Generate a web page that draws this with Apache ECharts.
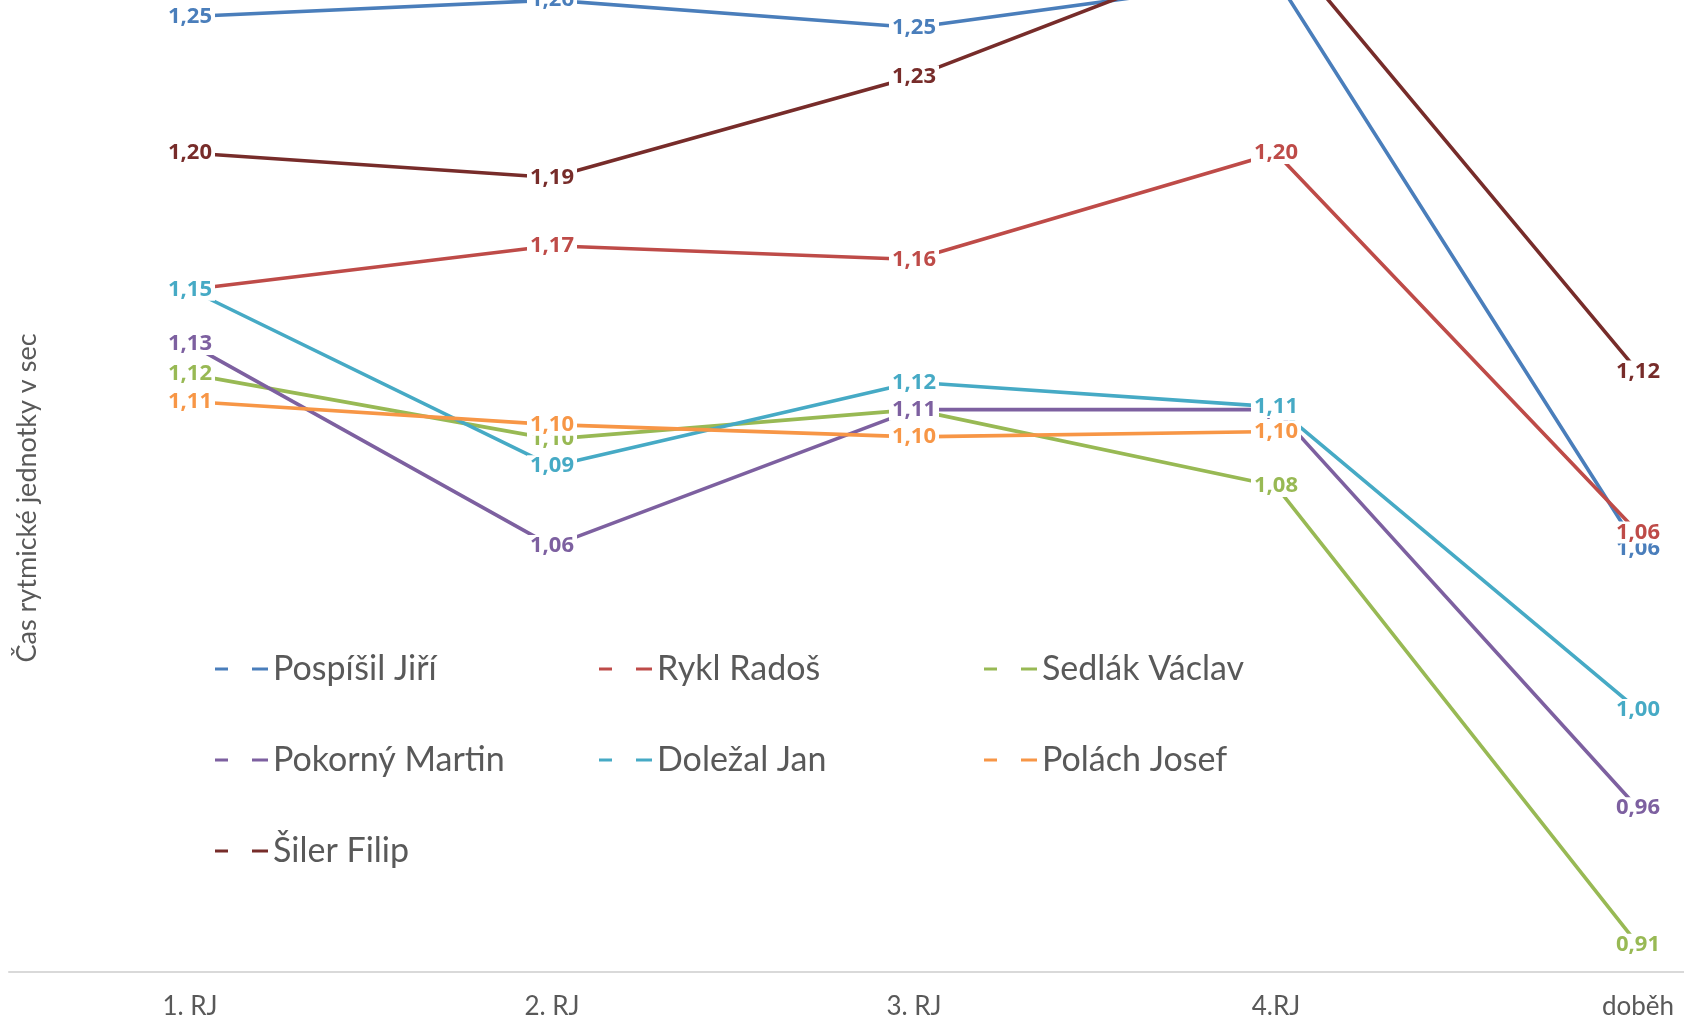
<!DOCTYPE html>
<html>
<head>
<meta charset="utf-8">
<script src="https://cdn.jsdelivr.net/npm/echarts@6/dist/echarts.min.js"></script>
<style>
  html, body { margin: 0; padding: 0; background: #fff; }
  #chart { width: 1684px; height: 1026px; }
</style>
</head>
<body>
<div id="chart"></div>
<script>
// Data (labels show values rounded to 2 decimals)
const categories = ["1. RJ", "2. RJ", "3. RJ", "4.RJ", "doběh"];
const names = ["Pospíšil Jiří", "Rykl Radoš", "Sedlák Václav", "Pokorný Martin", "Doležal Jan", "Polách Josef", "Šiler Filip"];
const pospisil = [1.25, 1.256, 1.246, 1.264, 1.0552];
const rykl = [1.15, 1.166, 1.161, 1.2, 1.061];
const sedlak = [1.119, 1.0952, 1.106, 1.078, 0.91];
const pokorny = [1.13, 1.056, 1.106, 1.106, 0.96];
const dolezal = [1.15, 1.0853, 1.116, 1.107, 0.996];
const polach = [1.109, 1.1005, 1.096, 1.098, null];
const siler = [1.2, 1.191, 1.228, 1.279, 1.12];
const colors = ["#4A7EBB", "#BE4B48", "#98B954", "#7D60A0", "#46AAC5", "#F79646", "#772C2A"];

const chart = echarts.init(document.getElementById("chart"));

const seriesData = [pospisil, rykl, sedlak, pokorny, dolezal, polach, siler];

const dashIcon = "path://M0,0h13v3h-13z M37,0h16v3h-16z";
const legendBase = {
  orient: "vertical",
  icon: dashIcon,
  itemWidth: 53,
  itemHeight: 3,
  itemGap: 51,
  padding: 0,
  itemStyle: { borderWidth: 0 },
  textStyle: { fontFamily: "Lato", fontSize: 34, color: "#595959", lineHeight: 40 },
};

const option = {
  backgroundColor: "#fff",
  animation: false,
  color: colors,
  // the reference is cropped at the top and right, so the plot runs past the canvas
  grid: { left: 9, right: -135, top: -120, bottom: 54, outerBoundsMode: "none", containLabel: false },
  xAxis: {
    type: "category",
    data: categories,
    boundaryGap: true,
    axisLine: { lineStyle: { color: "#D9D9D9", width: 2 } },
    axisTick: { show: false },
    axisLabel: { color: "#595959", fontFamily: "Lato", fontSize: 26, margin: 22 },
  },
  yAxis: {
    type: "value",
    min: 0.9,
    max: 1.3,
    axisLine: { show: false },
    axisTick: { show: false },
    axisLabel: { show: false },
    splitLine: { show: false },
  },
  legend: [
    Object.assign({}, legendBase, { left: 215, top: 649, data: [names[0], names[3], names[6]] }),
    Object.assign({}, legendBase, { left: 599, top: 649, data: [names[1], names[4]] }),
    Object.assign({}, legendBase, { left: 984, top: 649, data: [names[2], names[5]] }),
  ],
  graphic: [
    {
      type: "text",
      x: 27,
      y: 498,
      rotation: Math.PI / 2,
      style: {
        text: "Čas rytmické jednotky v sec",
        font: "27px Lato",
        fill: "#595959",
        align: "center",
        verticalAlign: "middle",
      },
    },
  ],
  series: seriesData.map((d, i) => ({
    name: names[i],
    type: "line",
    data: d,
    symbol: "circle",
    symbolSize: 1,
    clip: false,
    lineStyle: { width: 3.6, color: colors[i] },
    itemStyle: { color: colors[i] },
    label: {
      show: true,
      position: "inside",
      color: colors[i],
      fontFamily: "Noto Sans",
      fontWeight: "bold",
      fontSize: 22,
      lineHeight: 18,
      backgroundColor: "#fff",
      padding: [2, 3],
      formatter: (p) => p.value.toFixed(2).replace(".", ","),
    },
  })),
};

chart.setOption(option);
</script>
</body>
</html>
